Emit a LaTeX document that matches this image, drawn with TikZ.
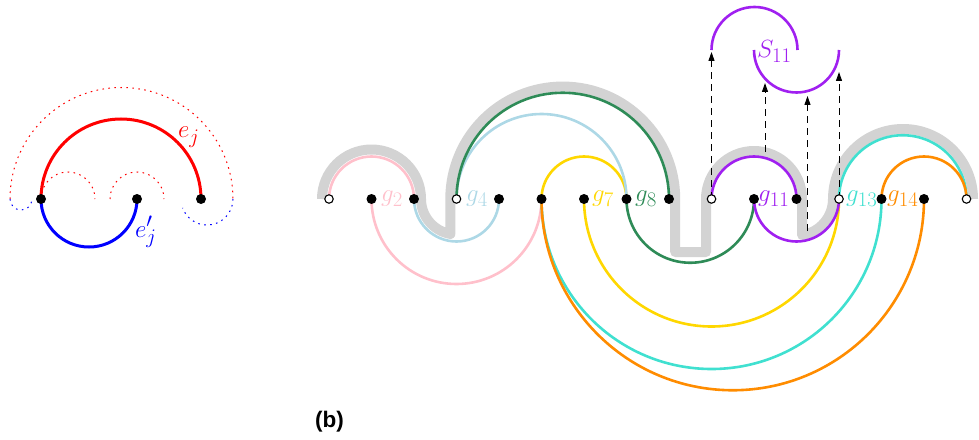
\documentclass[tikz,border=0pt]{standalone}
\usepackage{fontspec}
\newfontfamily\blabfont{Liberation Sans}
\usetikzlibrary{arrows.meta}
\definecolor{cpink}{RGB}{255,192,203}
\definecolor{clblue}{RGB}{173,216,230}
\definecolor{cgreen}{RGB}{46,139,87}
\definecolor{cgold}{RGB}{255,215,0}
\definecolor{cpurple}{RGB}{160,32,240}
\definecolor{cturq}{RGB}{64,224,208}
\definecolor{corange}{RGB}{255,140,0}
\definecolor{cgray}{RGB}{211,211,211}
\begin{document}
\begin{tikzpicture}[x=1pt,y=1pt,
  vdot/.style={circle,fill=black,inner sep=0pt,minimum size=10pt},
  vopen/.style={circle,draw=black,fill=white,line width=1.1pt,inner sep=0pt,minimum size=8.5pt},
  arcline/.style={line width=2.6pt},
  band/.style={line width=10pt,draw=cgray,line join=round},
  lab/.style={inner sep=0pt,anchor=base west,font=\fontsize{27.5}{32}\selectfont},
  dotl/.style={line width=1pt,dash pattern=on 1.6pt off 4.4pt},
  proj/.style={line width=1pt,dash pattern=on 7pt off 5pt,-{Triangle[length=9pt,width=6pt]}}
]
\useasboundingbox (0,-240) rectangle (979,199);

% ---------- left figure ----------
\coordinate (a) at (41,0);
\coordinate (b) at (137,0);
\coordinate (c) at (201,0);
\coordinate (dl) at (10,0);
\coordinate (dr) at (233,0);
\coordinate (m2) at (110,0);
\draw[red,dotl] (dl) arc[start angle=180,end angle=0,radius=111.5];
\draw[blue,dotl] (dl) arc[start angle=180,end angle=350,radius=11];
\draw[blue,dotl] (dr) arc[start angle=0,end angle=-160,radius=26];
\draw[red,dotl] (a) arc[start angle=180,end angle=0,radius=27];
\draw[red,dotl] (m2) arc[start angle=180,end angle=0,radius=27];
\draw[red,line width=3pt] (a) arc[start angle=180,end angle=0,radius=80];
\draw[blue,line width=3pt] (a) arc[start angle=180,end angle=360,radius=48];
\node[vdot] (na) at (a) {};
\node[vdot] (nb) at (b) {};
\node[vdot] (nc) at (c) {};
\node[lab,text=red] (ej) at (178,61) {$e_j$};
\node[lab,text=blue] (ejp) at (135,-38) {$e'_j$};

% ---------- right figure ----------
\coordinate (p0) at (329,0);
\coordinate (p1) at (371.5,0);
\coordinate (p2) at (414,0);
\coordinate (p3) at (456.5,0);
\coordinate (p4) at (499,0);
\coordinate (p5) at (541.5,0);
\coordinate (p6) at (584,0);
\coordinate (p7) at (626.5,0);
\coordinate (p8) at (669,0);
\coordinate (p9) at (711.5,0);
\coordinate (p10) at (754,0);
\coordinate (p11) at (796.5,0);
\coordinate (p12) at (839,0);
\coordinate (p13) at (881.5,0);
\coordinate (p14) at (924,0);
\coordinate (p15) at (966.5,0);

% gray band
\draw[band] (322,0) arc[start angle=180,end angle=0,radius=49.5]
  arc[start angle=180,end angle=260,radius=35.5] -- (450.3,0)
  arc[start angle=180,end angle=0,radius=112.45] -- (675.2,-53) -- (706,-53) -- (706,0)
  arc[start angle=180,end angle=0,radius=48] -- (802,-36.08)
  arc[start angle=-81.33,end angle=0,radius=36.5]
  arc[start angle=180,end angle=0,radius=70];

% arcs
\draw[arcline,cpink] (p0) arc[start angle=180,end angle=0,radius=42.5];
\draw[arcline,cpink] (p1) arc[start angle=180,end angle=360,radius=85];
\draw[arcline,cgold] (p5) arc[start angle=180,end angle=0,radius=42.5];
\draw[arcline,cgold] (p6) arc[start angle=180,end angle=360,radius=127.5];
\draw[arcline,clblue] (p3) arc[start angle=180,end angle=0,radius=85];
\draw[arcline,clblue] (p2) arc[start angle=180,end angle=360,radius=42.5];
\draw[arcline,cgreen] (p3) arc[start angle=180,end angle=0,radius=106.25];
\draw[arcline,cgreen] (p7) arc[start angle=180,end angle=360,radius=63.75];
\draw[arcline,cturq] (p12) arc[start angle=180,end angle=0,radius=63.75];
\draw[arcline,cturq] (p5) arc[start angle=180,end angle=360,radius=170];
\draw[arcline,corange] (p13) arc[start angle=180,end angle=0,radius=42.5];
\draw[arcline,corange] (p5) arc[start angle=180,end angle=360,radius=191.25];
\draw[arcline,cpurple] (p9) arc[start angle=180,end angle=0,radius=42.5];
\draw[arcline,cpurple] (p10) arc[start angle=180,end angle=360,radius=42.5];

% S11
\coordinate (sA) at (711.5,149);
\coordinate (sB) at (754,149);
\draw[arcline,cpurple] (sA) arc[start angle=180,end angle=0,radius=43];
\draw[arcline,cpurple] (sB) arc[start angle=180,end angle=360,radius=42.5];
\node[lab,text=cpurple] (S) at (757,141) {$S_{11}$};

% projection arrows
\coordinate (t1) at (711.5,147);
\coordinate (s2) at (765,47);
\coordinate (t2) at (765,116);
\coordinate (s3) at (807.5,-32);
\coordinate (t3) at (807.5,103);
\coordinate (t4) at (839,127);
\draw[proj] (p9) -- (t1);
\draw[proj] (s2) -- (t2);
\draw[proj] (s3) -- (t3);
\draw[proj] (p12) -- (t4);

% vertices
\node[vopen] (v0) at (p0) {};
\node[vdot] (v1) at (p1) {};
\node[vdot] (v2) at (p2) {};
\node[vopen] (v3) at (p3) {};
\node[vdot] (v4) at (p4) {};
\node[vdot] (v5) at (p5) {};
\node[vdot] (v6) at (p6) {};
\node[vdot] (v7) at (p7) {};
\node[vdot] (v8) at (p8) {};
\node[vopen] (v9) at (p9) {};
\node[vdot] (v10) at (p10) {};
\node[vdot] (v11) at (p11) {};
\node[vopen] (v12) at (p12) {};
\node[vdot] (v13) at (p13) {};
\node[vdot] (v14) at (p14) {};
\node[vopen] (v15) at (p15) {};

% labels
\node[lab,text=cpink] (l2) at (381,-2.5) {$g_2$};
\node[lab,text=clblue] (l4) at (466,-2.5) {$g_4$};
\node[lab,text=cgold] (l7) at (592,-2.5) {$g_7$};
\node[lab,text=cgreen] (l8) at (635,-2.5) {$g_8$};
\node[lab,text=cpurple] (l11) at (758,-2.5) {$g_{11}$};
\node[lab,text=cturq] (l13) at (846,-2.5) {$g_{13}$};
\node[lab,text=corange] (l14) at (887,-2.5) {$g_{14}$};

\node[font=\blabfont\bfseries\fontsize{22.5}{26}\selectfont,anchor=base west,inner sep=0pt] (blab) at (315,-228.5) {(b)};
\end{tikzpicture}
\end{document}
